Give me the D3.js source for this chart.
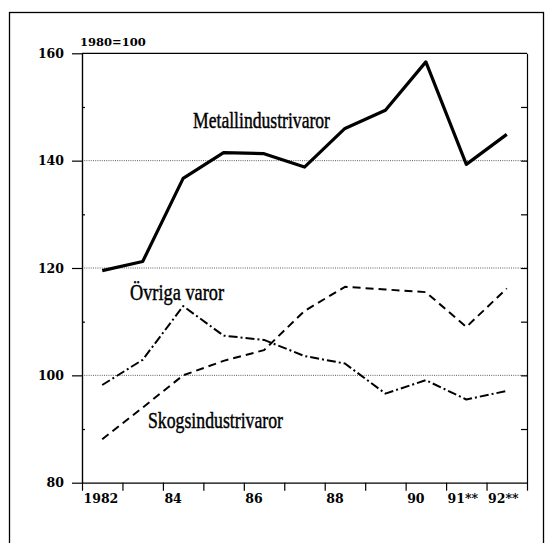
<!DOCTYPE html>
<head>
  <meta charset="utf-8">
  <script src="https://d3js.org/d3.v7.min.js"></script>
  <style>
    body { margin:0; background:#fff; }
    text { fill:#000; }
  </style>
</head>
<body>
  <script>
    // data, index 1980=100, points sit in the middle of each year
    var years = [1982, 1983, 1984, 1985, 1986, 1987, 1988, 1989, 1990, 1991, 1992];
    var metall = [119.5, 121.2, 136.7, 141.5, 141.3, 138.8, 146.0, 149.4, 158.4, 139.3, 144.9];
    var ovriga = [98.2, 102.9, 112.9, 107.4, 106.6, 103.6, 102.2, 96.6, 99.1, 95.5, 97.1];
    var skogs = [88.1, 94.0, 100.0, 102.7, 104.7, 112.0, 116.5, 116.0, 115.5, 109.0, 116.2];

    var tickYears = [1982, 1983, 1984, 1985, 1986, 1987, 1988, 1989, 1990, 1991, 1992, 1993];
    var tickLabels = {1982: "1982", 1984: "84", 1986: "86", 1988: "88", 1990: "90", 1991: "91**", 1992: "92**"};
    var yMajor = [80, 100, 120, 140, 160];
    var yMinor = [90, 110, 130, 150];
    var yGrid = [100, 120, 140];

    var svg = d3.select("body").append("svg")
      .attr("width", 545)
      .attr("height", 543)

    // outer frame
    svg.append("rect")
      .attr("x", 9.5).attr("y", 12.5)
      .attr("width", 534).attr("height", 560)
      .attr("fill", "none").attr("stroke", "#000").attr("stroke-width", 1.3)

    var x = d3.scaleLinear().domain([1982, 1993]).range([82, 527])
    var y = d3.scaleLinear().domain([80, 160]).range([482.7, 53.3])

    var tickFont = function(g){
      g.selectAll("text")
        .style("font-family", "'DejaVu Serif', serif")
        .style("font-weight", "bold")
        .style("font-size", "12.5px")
      g.selectAll("line, path").attr("stroke", "#000").attr("stroke-width", 1.2)
    }

    // dotted gridlines
    svg.selectAll(".grid")
      .data(yGrid)
      .enter()
      .append("line")
      .attr("class", "grid")
      .attr("x1", x(1982)).attr("x2", x(1993))
      .attr("y1", function(d){ return y(d) }).attr("y2", function(d){ return y(d) })
      .attr("stroke", "#333").attr("stroke-width", 0.8)
      .attr("stroke-dasharray", "1,1.2")

    // top line of the plot box
    svg.append("line")
      .attr("x1", x(1982)).attr("x2", x(1993))
      .attr("y1", y(160)).attr("y2", y(160))
      .attr("stroke", "#000").attr("stroke-width", 1.2)

    // left axis
    svg.append("g")
      .attr("transform", "translate(" + x(1982) + ",0)")
      .call(d3.axisLeft(y).tickValues(yMajor).tickSize(10).tickSizeOuter(0).tickPadding(8))
      .call(tickFont)

    svg.append("g")
      .attr("transform", "translate(" + x(1982) + ",0)")
      .call(d3.axisRight(y).tickValues(yMinor).tickSize(3).tickSizeOuter(0).tickFormat(""))
      .call(tickFont)

    // right axis, inner ticks
    svg.append("g")
      .attr("transform", "translate(" + x(1993) + ",0)")
      .call(d3.axisLeft(y).tickValues(yMinor.concat([100, 120, 140])).tickSize(6).tickSizeOuter(0).tickFormat(""))
      .call(tickFont)

    // bottom axis
    var xAxis = svg.append("g")
      .attr("transform", "translate(0," + y(80) + ")")
      .call(d3.axisBottom(x).tickValues(tickYears).tickSize(8).tickSizeOuter(0)
        .tickFormat(function(d){ return tickLabels[d] || "" }))
      .call(tickFont)
    xAxis.selectAll("text").attr("text-anchor", "start").attr("x", 1)

    // unit label
    svg.append("text")
      .attr("x", 80).attr("y", 46)
      .style("font-family", "'DejaVu Serif', serif")
      .style("font-weight", "bold")
      .style("font-size", "11.5px")
      .text("1980=100")

    var line = d3.line()
      .x(function(d){ return x(d[0] + 0.5) })
      .y(function(d){ return y(d[1]) })

    function series(values, width, dash){
      svg.append("path")
        .datum(years.map(function(yr, i){ return [yr, values[i]] }))
        .attr("d", line)
        .attr("fill", "none")
        .attr("stroke", "#000")
        .attr("stroke-width", width)
        .attr("stroke-linejoin", "round")
        .attr("stroke-dasharray", dash)
    }
    series(metall, 3.2, null)
    series(skogs, 2, "8,5")
    series(ovriga, 2, "9,3,2,3")

    // series labels, condensed serif
    function label(txt, lx, ly, len){
      svg.append("text")
        .attr("x", lx).attr("y", ly)
        .attr("textLength", len)
        .attr("lengthAdjust", "spacingAndGlyphs")
        .style("font-family", "'Liberation Serif', serif")
        .style("font-size", "23px")
        .style("stroke", "#000")
        .style("stroke-width", 0.45)
        .text(txt)
    }
    label("Metallindustrivaror", 193, 128, 137)
    label("Övriga varor", 130, 300, 94)
    label("Skogsindustrivaror", 148, 428, 135)
  </script>
</body>
